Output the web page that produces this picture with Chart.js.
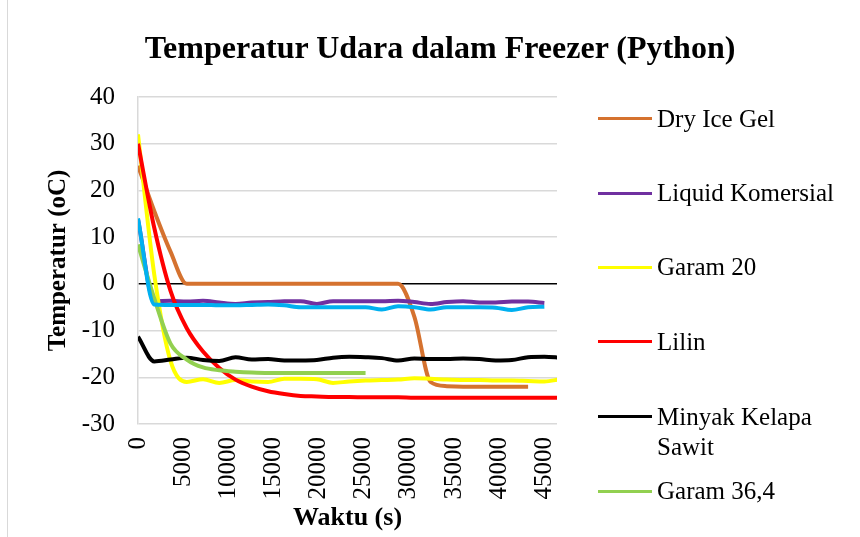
<!DOCTYPE html>
<html>
<head>
<meta charset="utf-8">
<script src="https://cdn.jsdelivr.net/npm/chart.js@4.4.0/dist/chart.umd.min.js"></script>
<style>
body{margin:0;background:#fff;}
#wrap{position:relative;width:860px;height:537px;font-family:"Liberation Serif","Times New Roman",serif;color:#000;}
#frame{position:absolute;left:7px;top:0;width:1px;height:537px;background:#d9d9d9;}
#title{position:absolute;left:10px;top:27px;width:860px;text-align:center;font-weight:bold;font-size:32px;line-height:40px;}
.key{position:absolute;left:598px;width:54px;height:3px;}
.keyText{position:absolute;left:657px;width:200px;font-size:25px;line-height:30px;}
</style>
</head>
<body>
<div id="wrap">
<canvas id="chart" width="860" height="537"></canvas>
<div id="frame"></div>
<div id="title">Temperatur Udara dalam Freezer (Python)</div>
<div id="legend"></div>
</div>
<script>
let timeSec = [0,1800,3600,5400,7200,9000,10800,12600,14400,16200,18000,19800,21600,23400,
25200,27000,28800,30600,32400,34200,36000,37800,39600,41400,43200,45000,46800];

let dryIceGel = [25.3,15.6,6.9,0,0,0,0,0,0,0,0,0,0,0,0,0,0,-7,-21,-21.9,-22,-22,-22,-22,-22];
let liquidKomersial = [13.8,-3.7,-3.6,-3.8,-3.6,-4.0,-4.3,-4.0,-3.9,-3.7,-3.7,-4.3,-3.7,-3.7,-3.7,-3.7,-3.6,-3.9,-4.3,-3.9,-3.7,-4.0,-4.0,-3.8,-3.8,-4.1];
let garam20 = [32,2,-16.5,-21,-20.4,-21.2,-20.6,-20.9,-21,-20.3,-20.3,-20.4,-21.2,-20.9,-20.7,-20.6,-20.5,-20.2,-20.3,-20.5,-20.6,-20.6,-20.7,-20.7,-20.8,-20.9,-20.4];
let lilin = [30,12,-1.5,-9.5,-14.5,-18,-20.5,-22,-23,-23.6,-24,-24.1,-24.2,-24.2,-24.3,-24.3,-24.3,-24.4,-24.4,-24.4,-24.4,-24.4,-24.4,-24.4,-24.4,-24.4,-24.4];
let minyakKelapaSawit = [-11.3,-16.6,-16.2,-15.8,-16.3,-16.5,-15.7,-16.2,-16.1,-16.4,-16.4,-16.3,-15.8,-15.6,-15.7,-15.9,-16.4,-16.0,-16.1,-16.1,-16.0,-16.1,-16.4,-16.3,-15.7,-15.6,-15.8];
let garam364 = [8.4,-3.1,-12.8,-16.2,-17.9,-18.5,-18.8,-19.0,-19.1,-19.1,-19.1,-19.1,-19.1,-19.1,-19.1];
let seri7 = [14,-4.4,-4.5,-4.5,-4.5,-4.6,-4.6,-4.5,-4.4,-4.6,-5.0,-5.0,-5.0,-5.0,-5.0,-5.5,-4.8,-5.0,-5.5,-5.0,-5.0,-5.0,-5.1,-5.6,-5.0,-4.9];

let seriesNames = ['Dry Ice Gel','Liquid Komersial','Garam 20','Lilin','Minyak Kelapa Sawit','Garam 36,4',''];
let seriesColors = ['#D5722F','#7030A0','#FFFF00','#FF0000','#000000','#92D050','#00B0F0'];
let seriesValues = [dryIceGel, liquidKomersial, garam20, lilin, minyakKelapaSawit, garam364, seri7];

let xTicks = [0,5000,10000,15000,20000,25000,30000,35000,40000,45000];
let yTicks = [-30,-20,-10,0,10,20,30,40];

let serif = '"Liberation Serif","Times New Roman",serif';

/* legend (last series has no entry in the picture) */
let legendY = [118.5,193,267,341.5,416.5,491];
let legendHtml = '';
for(let i=0;i<legendY.length;i++){
legendHtml += '<div class="key" style="top:'+(legendY[i]-1.5)+'px;background:'+seriesColors[i]+'"></div>';
legendHtml += '<div class="keyText" style="top:'+(legendY[i]-15)+'px">'+seriesNames[i]+'</div>';
}
document.getElementById('legend').innerHTML = legendHtml;

let datasets = seriesValues.map(function(vals,i){
return {
label: seriesNames[i],
data: vals.map(function(v,j){ return {x: timeSec[j], y: v}; }),
borderColor: seriesColors[i],
backgroundColor: seriesColors[i],
order: seriesValues.length - 1 - i
};
});

new Chart(document.getElementById('chart').getContext('2d'),{
type:'line',
data:{datasets:datasets},
options:{
responsive:false,
animation:false,
layout:{padding:{top:97,right:303,bottom:0,left:0}},
elements:{
point:{radius:0},
line:{borderWidth:4,cubicInterpolationMode:'monotone'}
},
plugins:{legend:{display:false},title:{display:false},tooltip:{enabled:false}},
scales:{
x:{
type:'linear',min:0,max:46400,
afterFit:function(s){ s.height = 113; },
afterBuildTicks:function(s){ s.ticks = xTicks.map(function(v){ return {value:v}; }); },
grid:{display:false,drawTicks:false},
border:{display:false},
ticks:{autoSkip:false,minRotation:90,maxRotation:90,padding:13,color:'#000',
font:{family:serif,size:25},callback:function(v){ return String(v); }},
title:{display:true,text:'Waktu (s)',color:'#000',font:{family:serif,size:26,weight:'bold'},padding:{top:0,bottom:3}}
},
y:{
min:-30,max:40,
afterFit:function(s){ s.width = 138; },
afterBuildTicks:function(s){ s.ticks = yTicks.map(function(v){ return {value:v}; }); },
grid:{color:function(c){ return c.tick && c.tick.value === 0 ? '#000' : '#d9d9d9'; },lineWidth:1.5,drawTicks:false},
border:{color:'#d9d9d9',width:1.5},
ticks:{padding:23,color:'#000',font:{family:serif,size:25},callback:function(v){ return String(v); }},
title:{display:true,text:'Temperatur (oC)',color:'#000',font:{family:serif,size:25,weight:'bold'},padding:{top:44,bottom:0}}
}
}
}
});
</script>
</body>
</html>
